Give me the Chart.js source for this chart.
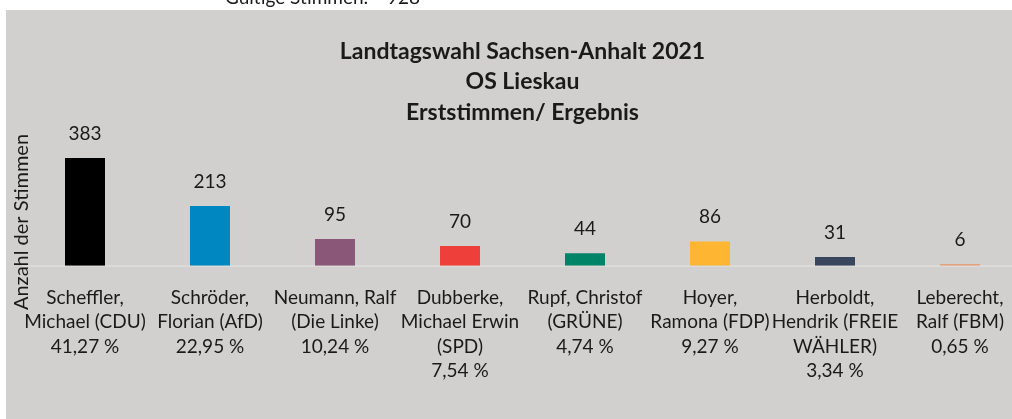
<!DOCTYPE html>
<html>
<head>
<meta charset="utf-8">
<script src="https://cdn.jsdelivr.net/npm/chart.js@4/dist/chart.umd.min.js"></script>
<style>
  html, body { margin: 0; padding: 0; background: #fff; overflow: hidden; }
  #wrap { position: absolute; left: 0; top: 0; width: 1028px; height: 419px; }
</style>
</head>
<body>
<div id="wrap"><canvas id="wahlChart" width="1028" height="419"></canvas></div>
<script>
// Daten
var candidates = [
    ['Scheffler,', 'Michael (CDU)'],
    ['Schröder,', 'Florian (AfD)'],
    ['Neumann, Ralf', '(Die Linke)'],
    ['Dubberke,', 'Michael Erwin', '(SPD)'],
    ['Rupf, Christof', '(GRÜNE)'],
    ['Hoyer,', 'Ramona (FDP)'],
    ['Herboldt,', 'Hendrik (FREIE', 'WÄHLER)'],
    ['Leberecht,', 'Ralf (FBM)']
];
var votes = [383, 213, 95, 70, 44, 86, 31, 6];
var percents = ['41,27 %', '22,95 %', '10,24 %', '7,54 %', '4,74 %', '9,27 %', '3,34 %', '0,65 %'];
var barColors = ['#000000', '#0086c0', '#8a5779', '#ef3f3a', '#008468', '#fdb532', '#3a455e', '#e5a07c'];
var titleLines = ['Landtagswahl Sachsen-Anhalt 2021', 'OS Lieskau', 'Erststimmen/ Ergebnis'];
var validLabel = 'Gültige Stimmen:';
var validTotal = '928';

var labels = candidates.map(function(c, i) {
    return c.concat([percents[i]]);
});

var FONT = 'Lato';

var backgroundPlugin = {
    id: 'background',
    beforeDraw: function(chart) {
        var ctx = chart.ctx;
        ctx.save();
        ctx.fillStyle = '#ffffff';
        ctx.fillRect(0, 0, chart.width, chart.height);
        ctx.fillStyle = '#d1d0ce';
        ctx.fillRect(6, 10, chart.width - 6, chart.height - 10);
        // abgeschnittene Zeile oberhalb (nur unterer Rand sichtbar)
        ctx.fillStyle = '#1a1a1a';
        ctx.font = '19px ' + FONT;
        ctx.textBaseline = 'alphabetic';
        ctx.textAlign = 'left';
        ctx.fillText(validLabel, 225, 4);
        ctx.fillText(validTotal, 387, 4);
        ctx.restore();
    },
    afterDraw: function(chart) {
        var ctx = chart.ctx;
        ctx.save();
        ctx.translate(22, 222);
        ctx.rotate(-Math.PI / 2);
        ctx.fillStyle = '#1a1a1a';
        ctx.font = '20px ' + FONT;
        ctx.textAlign = 'center';
        ctx.textBaseline = 'middle';
        ctx.fillText('Anzahl der Stimmen', 0, 0);
        ctx.restore();
    }
};

var valueLabelPlugin = {
    id: 'valueLabels',
    afterDatasetsDraw: function(chart) {
        var ctx = chart.ctx;
        var meta = chart.getDatasetMeta(0);
        ctx.save();
        ctx.fillStyle = '#1a1a1a';
        ctx.font = '19px ' + FONT;
        ctx.textAlign = 'center';
        ctx.textBaseline = 'middle';
        meta.data.forEach(function(bar, i) {
            ctx.fillText(String(votes[i]), bar.x, bar.y - 24.5);
        });
        ctx.restore();
    }
};

var ctx = document.getElementById('wahlChart').getContext('2d');
var wahlChart = new Chart(ctx, {
    type: 'bar',
    data: {
        labels: labels,
        datasets: [{
            data: votes,
            backgroundColor: barColors,
            borderWidth: 0,
            categoryPercentage: 1,
            barPercentage: 0.32
        }]
    },
    options: {
        responsive: false,
        animation: false,
        layout: {
            padding: { left: 22.5, right: 5.5, top: 25.5, bottom: 16 }
        },
        plugins: {
            legend: { display: false },
            tooltip: { enabled: false },
            title: {
                display: true,
                text: titleLines,
                color: '#1a1a1a',
                font: { family: FONT, size: 23, weight: 'bold', lineHeight: 1.33 },
                padding: { top: 10.5, bottom: 0 }
            }
        },
        scales: {
            x: {
                grid: { display: false, drawTicks: false },
                border: { display: true, color: '#dcdbd9', width: 2 },
                ticks: {
                    color: '#1a1a1a',
                    font: { family: FONT, size: 19, lineHeight: 1.28 },
                    padding: 20,
                    maxRotation: 0,
                    autoSkip: false
                }
            },
            y: {
                display: false,
                min: 0,
                max: 491
            }
        }
    },
    plugins: [backgroundPlugin, valueLabelPlugin]
});
</script>
</body>
</html>
